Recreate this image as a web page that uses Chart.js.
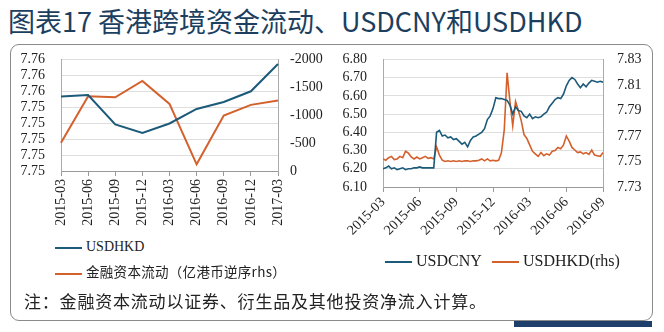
<!DOCTYPE html>
<html>
<head>
<meta charset="utf-8">
<script src="https://cdn.jsdelivr.net/npm/chart.js@4"></script>
<style>
  body { margin: 0; background: #fff; width: 664px; height: 332px; position: relative; overflow: hidden; }
  .abs { position: absolute; white-space: nowrap; }
  #title { left: 8px; top: 1px; font: 27px 'Noto Sans CJK SC', sans-serif; color: #1c3f5f; }
  #box { left: 10px; top: 44px; width: 643px; height: 277px; border: 1px solid #8a8a8a; border-radius: 9px; box-sizing: border-box; }
  #bar { left: 514px; top: 321px; width: 138px; height: 6px; background: #1e3f6b; }
  .leg { font: 14px 'Liberation Serif', serif; color: #222; line-height: 16px; }
  .ln { display: inline-block; width: 27px; height: 2px; vertical-align: middle; margin-right: 4px; }
  #note { left: 24px; top: 288px; font: 17px 'Noto Sans CJK SC', sans-serif; color: #222; letter-spacing: 0.8px; }
</style>
</head>
<body>
<div id="title" class="abs">图表17 香港跨境资金流动、USDCNY和USDHKD</div>
<div id="box" class="abs"></div>
<div id="bar" class="abs"></div>
<canvas id="left" class="abs" style="left:10px;top:35px" width="322" height="201"></canvas>
<canvas id="right" class="abs" style="left:332px;top:35px" width="322" height="225"></canvas>
<div class="abs leg" style="left:55px;top:239px"><span class="ln" style="background:#1c5a7a"></span>USDHKD</div>
<div class="abs leg" style="left:55px;top:261px"><span class="ln" style="background:#d4602c"></span><span style="font:13.5px 'Noto Sans CJK SC',sans-serif;letter-spacing:0.3px">金融资本流动（亿港币逆序rhs）</span></div>
<div class="abs leg" style="left:385px;top:253px;font-size:16px"><span class="ln" style="background:#1c5a7a"></span>USDCNY</div>
<div class="abs leg" style="left:492px;top:253px;font-size:16px"><span class="ln" style="background:#d4602c"></span>USDHKD(rhs)</div>
<div id="note" class="abs">注：金融资本流动以证券、衍生品及其他投资净流入计算。</div>
<script>
const blue = '#1c5a7a'
const orange = '#d4602c'

// left panel: quarterly
const quarters = ['2015-03','2015-06','2015-09','2015-12','2016-03','2016-06','2016-09','2016-12','2017-03']
const usdhkdQ = [7.75467, 7.75477, 7.75292, 7.75239, 7.75298, 7.75389, 7.75433, 7.75500, 7.75671]
const flowQ = [-505, -1339, -1321, -1613, -1202, -119, -994, -1185, -1262]
const hkdTickLabels = ['7.75','7.75','7.75','7.75','7.75','7.76','7.76','7.76']

// right panel: weekly, 13 per quarter
const dailyTicks = ['2015-03','2015-06','2015-09','2015-12','2016-03','2016-06','2016-09']
const usdcny = [
  6.200, 6.205, 6.215, 6.200, 6.205, 6.195, 6.200, 6.205, 6.195, 6.200, 6.200, 6.205, 6.205, 6.210, 6.205, 6.205, 6.205, 6.205, 6.205,
  6.400, 6.410, 6.380, 6.385, 6.370, 6.375, 6.360, 6.365, 6.350, 6.335, 6.345, 6.320, 6.355, 6.375, 6.380, 6.390, 6.400, 6.420, 6.470, 6.490, 6.530,
  6.590, 6.585, 6.585, 6.580, 6.575, 6.550, 6.500, 6.540, 6.520, 6.515, 6.490, 6.480, 6.500, 6.475, 6.485, 6.480, 6.485, 6.500, 6.510, 6.540,
  6.560, 6.580, 6.590, 6.585, 6.610, 6.655, 6.685, 6.700, 6.690, 6.665, 6.645, 6.665, 6.650, 6.670, 6.685, 6.680, 6.675, 6.680, 6.675
]
const usdhkd = [
  7.7520, 7.7510, 7.7530, 7.7540, 7.7515, 7.7520, 7.7540, 7.7530, 7.7580, 7.7565, 7.7535, 7.7520, 7.7535, 7.7520, 7.7530, 7.7540, 7.7525, 7.7530, 7.7520,
  7.7615, 7.7550, 7.7510, 7.7500, 7.7505, 7.7500, 7.7505, 7.7500, 7.7505, 7.7500, 7.7505, 7.7505, 7.7500, 7.7505, 7.7505, 7.7510, 7.7520, 7.7505, 7.7520, 7.7505, 7.7510,
  7.7505, 7.7510, 7.7570, 7.7750, 7.8195, 7.7970, 7.7780, 7.7970, 7.7900, 7.7820, 7.7710, 7.7680, 7.7630, 7.7580, 7.7560, 7.7540, 7.7570, 7.7545, 7.7560, 7.7550,
  7.7580, 7.7585, 7.7610, 7.7600, 7.7630, 7.7700, 7.7660, 7.7610, 7.7590, 7.7570, 7.7575, 7.7560, 7.7570, 7.7555, 7.7590, 7.7550, 7.7545, 7.7540, 7.7570
]

Chart.defaults.color = '#222'
Chart.defaults.font.family = "'Liberation Serif', serif"
Chart.defaults.font.size = 14

new Chart(document.getElementById('left'), {
    type: 'line',
    data: {
        labels: quarters,
        datasets: [
            {data: usdhkdQ, borderColor: blue, borderWidth: 2, pointRadius: 0, tension: 0, yAxisID: 'y'},
            {data: flowQ, borderColor: orange, borderWidth: 2, pointRadius: 0, tension: 0, yAxisID: 'y1'}
        ]
    },
    options: {
        responsive: false,
        animation: false,
        layout: {padding: {top: 4}},
        plugins: {legend: {display: false}, tooltip: {enabled: false}},
        scales: {
            x: {
                offset: false,
                grid: {drawOnChartArea: false, tickLength: 5, color: '#999'},
                border: {color: '#999'},
                ticks: {minRotation: 90, maxRotation: 90, padding: 3, autoSkip: false},
                afterFit: s => { s.height = 65 }
            },
            y: {
                min: 7.750, max: 7.757,
                ticks: {stepSize: 0.001, padding: 16, autoSkip: false, callback: (v, i) => hkdTickLabels[i]},
                grid: {color: '#dedede', drawTicks: false},
                border: {color: '#aaa'},
                afterFit: s => { s.width = 51 }
            },
            y1: {
                position: 'right',
                reverse: true,
                min: -2000, max: 0,
                ticks: {stepSize: 500, padding: 12, autoSkip: false, callback: v => String(v)},
                grid: {drawOnChartArea: false, drawTicks: false},
                border: {color: '#aaa'},
                afterFit: s => { s.width = 54 }
            }
        }
    }
});

new Chart(document.getElementById('right'), {
    type: 'line',
    data: {
        datasets: [
            {data: usdcny.map((v, i) => ({x: i, y: v})), borderColor: blue, borderWidth: 1.6, pointRadius: 0, tension: 0, yAxisID: 'y'},
            {data: usdhkd.map((v, i) => ({x: i, y: v})), borderColor: orange, borderWidth: 1.6, pointRadius: 0, tension: 0, yAxisID: 'y1'}
        ]
    },
    options: {
        responsive: false,
        animation: false,
        layout: {padding: {top: 4}},
        plugins: {legend: {display: false}, tooltip: {enabled: false}},
        scales: {
            x: {
                type: 'linear',
                min: 0, max: 78,
                grid: {drawOnChartArea: false, tickLength: 5, color: '#999'},
                border: {color: '#999'},
                ticks: {stepSize: 13, minRotation: 45, maxRotation: 45, padding: 2, autoSkip: false,
                        callback: v => dailyTicks[v / 13]},
                afterFit: s => { s.height = 73 }
            },
            y: {
                min: 6.10, max: 6.80,
                ticks: {stepSize: 0.1, padding: 16, autoSkip: false, callback: v => v.toFixed(2)},
                grid: {color: '#dedede', drawTicks: false},
                border: {color: '#aaa'},
                afterFit: s => { s.width = 51 }
            },
            y1: {
                position: 'right',
                min: 7.73, max: 7.83,
                ticks: {stepSize: 0.02, padding: 14, autoSkip: false, callback: v => v.toFixed(2)},
                grid: {drawOnChartArea: false, drawTicks: false},
                border: {color: '#aaa'},
                afterFit: s => { s.width = 51 }
            }
        }
    }
});
</script>
</body>
</html>
